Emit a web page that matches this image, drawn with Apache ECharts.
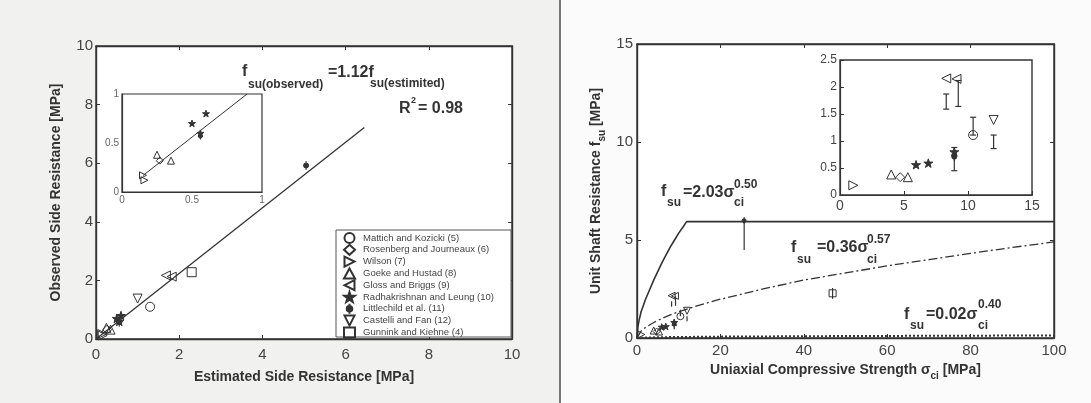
<!DOCTYPE html>
<html><head><meta charset="utf-8">
<script src="https://cdn.jsdelivr.net/npm/echarts@6/dist/echarts.min.js"></script>
<style>
html,body{margin:0;padding:0;}
#c{width:1091px;height:403px;background:linear-gradient(to right,#f1f1ef 0,#f1f1ef 559px,#777 559px,#777 561px,#fbfbfb 561px);}
</style>
</head><body><div id="c"></div><script>
// ---------- DATA ----------
const studyNames = ['Mattich and Kozicki (5)','Rosenberg and Journeaux (6)','Wilson (7)','Goeke and Hustad (8)','Gloss and Briggs (9)','Radhakrishnan and Leung (10)','Littlechild et al. (11)','Castelli and Fan (12)','Gunnink and Kiehne (4)'];
// left panel: [estimated, observed] per study (MPa)
const estimatedVsObserved = [
  [[1.3,1.1]],
  [[0.27,0.32]],
  [[0.15,0.17],[0.16,0.12]],
  [[0.25,0.38],[0.35,0.32]],
  [[1.68,2.17],[1.82,2.13]],
  [[0.5,0.7],[0.6,0.8],[0.56,0.6]],
  [[0.56,0.57],[5.05,5.92]],
  [[1.0,1.38]],
  [[2.3,2.28]]
];
// right panel: [UCS sigma_ci, f_su] per study (MPa)
const strengthVsResistance = [
  [[10.4,1.11]],
  [[4.7,0.33]],
  [[1.04,0.18]],
  [[4.0,0.38],[5.3,0.33]],
  [[8.3,2.16],[9.1,2.15]],
  [[5.94,0.56],[6.9,0.59],[8.93,0.80]],
  [[8.93,0.71],[25.7,5.99]],
  [[12.0,1.39]],
  [[46.9,2.28]]
];
// error bars: [sigma_ci, low, high]
const errorBars = [[8.3,1.59,1.87],[9.24,1.64,2.12],[10.4,1.11,1.44],[12.0,0.86,1.11],[8.93,0.45,0.88],[25.7,4.49,5.99],[46.9,2.0,2.55]];
// regression line f_su(obs) = 1.12 f_su(est)
const fitLineMain = [[0,0],[6.45,7.22]];
const fitLineInset = [[0.15,0.168],[0.893,1.0]];
// design curves
const curveUpper = [[0,0],[0.2,0.55],[0.5,0.9],[1,1.35],[1.5,1.65],[2,1.95],[3,2.45],[4,2.95],[5,3.4],[6,3.85],[7,4.25],[8,4.65],[9,5.0],[10,5.35],[11,5.65],[11.9,5.94],[100,5.94]];
const curveMean = [[0,0],[1,0.36],[2,0.53],[4,0.79],[6,1.0],[8,1.18],[10,1.34],[15,1.68],[20,1.98],[30,2.49],[40,2.96],[50,3.32],[60,3.68],[70,4.0],[80,4.32],[90,4.62],[100,4.9]];
const curveLower = [[0,0],[5,0.04],[20,0.07],[50,0.1],[100,0.13]];
// axis ranges / tick steps
const leftMainTicks = {min:0,max:10,step:2};
const leftInsetTicks = {min:0,max:1,step:0.5};
const rightXTicks = {min:0,max:100,step:20};
const rightYTicks = {min:0,max:15,step:5};
const rightInsetX = {min:0,max:15,step:5};
const rightInsetY = {min:0,max:2.5,step:0.5};

// ---------- STYLE ----------
const FONT = '"Liberation Sans", Arial, sans-serif';
const INK = '#333';
const STAR = 'path://M5,0L6.2,3.6L10,3.6L7,5.9L8.1,9.5L5,7.3L1.9,9.5L3,5.9L0,3.6L3.8,3.6Z';
const PHI = 'path://M5,0L5,10M5,2.2A2.8,2.8 0 1 1 5,7.8A2.8,2.8 0 1 1 5,2.2Z';
const symbols = ['circle','diamond','path://M0,0L10,5L0,10Z','triangle','path://M10,0L0,5L10,10Z',STAR,PHI,'path://M0,0L10,0L5,10Z','rect'];
const HOLLOW = 'rgba(255,255,255,0)';
const fills = [HOLLOW,HOLLOW,HOLLOW,HOLLOW,HOLLOW,INK,INK,HOLLOW,HOLLOW];

function axis(kind, grid, r, o) {
  o = o || {};
  return {
    type:'value', gridIndex:grid, min:r.min, max:r.max, interval:r.step,
    position:o.position,
    axisLine:{show:true,onZero:false,lineStyle:{color:INK,width:o.lw||1.4}},
    axisTick:{show:o.ticks!==false,inside:true,length:4,lineStyle:{color:INK,width:1}},
    axisLabel:{show:o.labels!==false,color:o.lc||'#444',fontSize:o.fs||15,fontFamily:FONT,margin:o.margin!=null?o.margin:5},
    splitLine:{show:false},
    name:o.name, nameLocation:'middle', nameGap:o.nameGap,
    nameTextStyle:o.nameStyle
  };
}
const nameStyle = {fontWeight:'bold',fontSize:14,color:'#333',fontFamily:FONT,
  rich:{n:{fontWeight:'bold',fontSize:14,color:'#333',fontFamily:FONT,lineHeight:22},
        s:{fontWeight:'bold',fontSize:10,color:'#333',fontFamily:FONT,lineHeight:10,verticalAlign:'bottom'}}};

const xAxis = [
  axis('x',0,leftMainTicks,{name:'Estimated Side Resistance [MPa]',nameGap:31,nameStyle:nameStyle,margin:8}),
  axis('x',0,leftMainTicks,{position:'top',labels:false}),
  axis('x',1,leftInsetTicks,{fs:10,lc:'#666',lw:1.2,margin:3,ticks:false}),
  axis('x',2,rightXTicks,{name:'{n|Uniaxial Compressive Strength σ}{s|ci}{n| [MPa]}',nameGap:20,nameStyle:nameStyle,margin:5}),
  axis('x',2,rightXTicks,{position:'top',labels:false}),
  axis('x',3,rightInsetX,{fs:14,lc:'#444',lw:1.2,margin:4})
];
const yAxis = [
  axis('y',0,leftMainTicks,{name:'Observed Side Resistance [MPa]',nameGap:33,nameStyle:nameStyle,margin:3}),
  axis('y',0,leftMainTicks,{position:'right',labels:false}),
  axis('y',1,leftInsetTicks,{fs:10,lc:'#666',lw:1.2,margin:3,ticks:false}),
  axis('y',2,rightYTicks,{name:'{n|Unit Shaft Resistance f}{s|su}{n| [MPa]}',nameGap:30,nameStyle:nameStyle,margin:4}),
  axis('y',2,rightYTicks,{position:'right',labels:false}),
  axis('y',3,rightInsetY,{fs:12,lc:'#444',lw:1.2,margin:3})
];

function scatterSet(points, xi, yi, size) {
  return studyNames.map((name,i)=>({
    type:'scatter', name, xAxisIndex:xi, yAxisIndex:yi, data:points[i],
    symbol:symbols[i], symbolSize:size, symbolKeepAspect:true, clip:true, z:4,
    itemStyle:{color:fills[i],borderColor:INK,borderWidth:1, opacity:1},
    emphasis:{disabled:true}
  }));
}
function lineSeries(data, xi, yi, type, width) {
  return {type:'line', data, xAxisIndex:xi, yAxisIndex:yi, showSymbol:false, symbol:'none', clip:true, z:3,
    lineStyle:{color:INK,width:width||1.3,type:type||'solid'}, emphasis:{disabled:true}, silent:true};
}
function errSeries(xi, yi, cap) {
  return {type:'custom', xAxisIndex:xi, yAxisIndex:yi, data:errorBars, clip:true, z:3, silent:true,
    encode:{x:0,y:[1,2]},
    renderItem:(params, api)=>{
      const a = api.coord([api.value(0), api.value(1)]);
      const b = api.coord([api.value(0), api.value(2)]);
      const st = {stroke:INK,lineWidth:1.2};
      const ch = [{type:'line',shape:{x1:a[0],y1:a[1],x2:b[0],y2:b[1]},style:st}];
      if (cap) {
        ch.push({type:'line',shape:{x1:a[0]-cap,y1:a[1],x2:a[0]+cap,y2:a[1]},style:st});
        ch.push({type:'line',shape:{x1:b[0]-cap,y1:b[1],x2:b[0]+cap,y2:b[1]},style:st});
      }
      return {type:'group',children:ch};
    }};
}

const series = [].concat(
  scatterSet(estimatedVsObserved,0,0,9),
  scatterSet(estimatedVsObserved,2,2,7),
  scatterSet(strengthVsResistance,3,3,7),
  scatterSet(strengthVsResistance,5,5,9),
  [lineSeries(fitLineMain,0,0,'solid',1.3),
   lineSeries(fitLineInset,2,2,'solid',1),
   lineSeries(curveUpper,3,3,'solid',1.6),
   lineSeries(curveMean,3,3,[9,3,2,3],1.3),
   lineSeries(curveLower,3,3,[2,2],2),
   errSeries(3,3,0),
   errSeries(5,5,3)]
);

function txt(x, y, s, size) {
  return {type:'text', z:50, silent:true,
    style:{text:s, x, y, font:'bold '+size+'px '+FONT, fill:INK, align:'left', verticalAlign:'middle', textAlign:'left', textVerticalAlign:'middle'}};
}
const graphic = [
  {type:'rect', z:10, silent:true, shape:{x:336,y:230,width:175,height:107}, style:{fill:'#fff',stroke:'#555',lineWidth:1}},
  txt(242,72,'f',16), txt(248,85,'su(observed)',12), txt(328,73,'=1.12f',16), txt(370,84,'su(estimited)',12),
  txt(399,109,'R',16), txt(411,101,'2',9), txt(418,109,'= 0.98',16),
  txt(661,192,'f',16), txt(667,203,'su',12), txt(683,193,'=2.03σ',16), txt(734,185,'0.50',12), txt(734,203,'ci',12),
  txt(791,248,'f',16), txt(797,260,'su',12), txt(817,248,'=0.36σ',16), txt(867,240,'0.57',12), txt(867,260,'ci',12),
  txt(904,315,'f',16), txt(910,326,'su',12), txt(926,315,'=0.02σ',16), txt(978,305,'0.40',12), txt(978,326,'ci',12)
];

const option = {
  animation:false,
  backgroundColor:'transparent',
  grid:[
    {left:96,top:46,width:416,height:293,show:true,backgroundColor:'#fff',borderColor:INK,borderWidth:1.4},
    {left:122,top:94,width:140,height:98,show:true,backgroundColor:'#fff',borderColor:INK,borderWidth:1.2},
    {left:637,top:44,width:417,height:294,show:true,backgroundColor:'#fff',borderColor:INK,borderWidth:1.4},
    {left:840,top:60,width:192,height:135,show:true,backgroundColor:'#fff',borderColor:INK,borderWidth:1.4}
  ],
  xAxis, yAxis, series, graphic,
  legend:{data:studyNames, orient:'vertical', left:343, top:232, itemWidth:11, itemHeight:10, itemGap:-0.2,
    padding:0, borderWidth:0, backgroundColor:'transparent', selectedMode:false, z:20,
    textStyle:{fontSize:9.5,lineHeight:10,color:'#444',fontFamily:FONT,padding:[0,0,0,3]}}
};
const chart = echarts.init(document.getElementById('c'));
chart.setOption(option);
</script></body></html>
